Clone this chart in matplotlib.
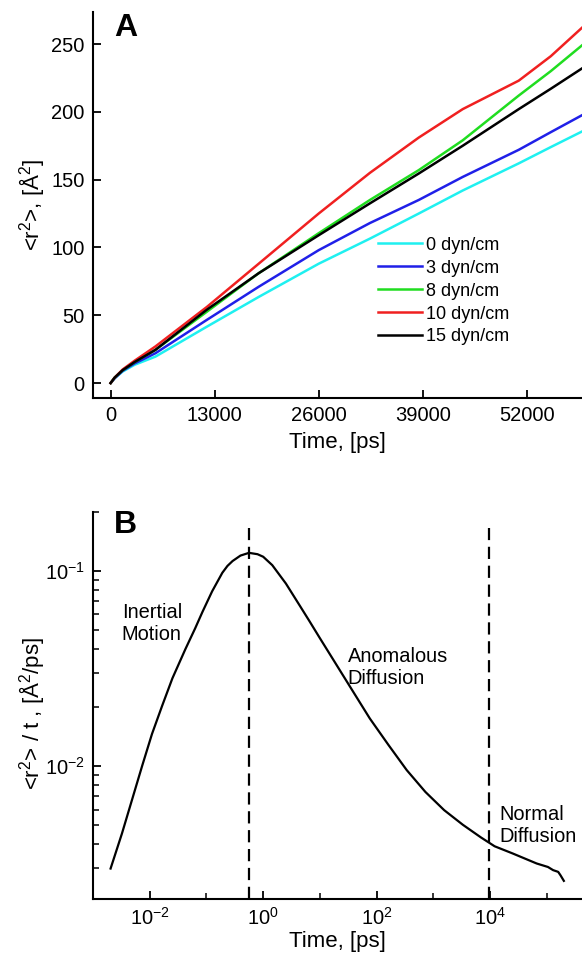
import numpy as np
import matplotlib
matplotlib.use("Agg")
import matplotlib.pyplot as plt
from matplotlib.ticker import FixedLocator, FixedFormatter, NullFormatter, LogLocator

plt.rcParams['font.family'] = ['Liberation Sans', 'DejaVu Sans']
plt.rcParams['mathtext.default'] = 'regular'

# panel A: mean square displacement vs time
time_a = [0, 500, 1500, 3000, 5600, 12000, 18500, 26000, 32400, 38500, 44000, 51000, 55000, 58900]
msd = {
    '0 dyn/cm':  [0, 3.5, 8.5, 13.5, 19.5, 41.5, 63.5, 88, 106.5, 125, 142, 162, 174, 185.5],
    '3 dyn/cm':  [0, 3.5, 9, 14.5, 22, 46.5, 71, 98, 118, 135, 152, 172, 185, 197.5],
    '8 dyn/cm':  [0, 4, 9.5, 15.5, 24.5, 52.5, 81, 110.5, 135, 157, 179, 212, 230, 249],
    '10 dyn/cm': [0, 4, 10, 16.5, 27, 56, 88, 125, 155, 181, 202, 223, 241, 262],
    '15 dyn/cm': [0, 4, 9.5, 15.5, 24.5, 54, 81, 109, 132.5, 154.5, 175, 202, 217, 232],
}
colors = ['#1ff0f0', '#2020e8', '#20dd20', '#f02020', '#000000']
xticks_a = [0, 13000, 26000, 39000, 52000]
yticks_a = [0, 50, 100, 150, 200, 250]

# panel B: <r^2>/t vs time (log10 values)
log_t = [-2.69, -2.49, -2.31, -2.13, -1.96, -1.78, -1.60, -1.37, -1.20, -1.07, -0.90,
         -0.72, -0.63, -0.54, -0.40, -0.25, -0.10, 0.0, 0.16, 0.40, 0.64, 0.81, 1.0, 1.225,
         1.55, 1.88, 2.21, 2.53, 2.86, 3.19, 3.52, 3.84, 4.08, 4.40, 4.82, 5.02, 5.11,
         5.20, 5.24, 5.30]
log_r = [-2.524, -2.345, -2.17, -1.995, -1.835, -1.69, -1.55, -1.40, -1.295, -1.21, -1.105,
         -1.01, -0.975, -0.95, -0.922, -0.908, -0.915, -0.928, -0.971, -1.065, -1.176, -1.255,
         -1.345, -1.45, -1.602, -1.756, -1.892, -2.02, -2.132, -2.225, -2.30, -2.365, -2.41,
         -2.447, -2.498, -2.516, -2.532, -2.541, -2.558, -2.587]
regime_bounds = [0.56, 9500]
xticks_b = [1e-2, 1e0, 1e2, 1e4]
xtick_labels_b = [r'$10^{-2}$', r'$10^{0}$', r'$10^{2}$', r'$10^{4}$']
xminor_b = [1e-1, 1e1, 1e3, 1e5]
yticks_b = [1e-2, 1e-1]
ytick_labels_b = [r'$10^{-2}$', r'$10^{-1}$']

W, H = 582, 963
fig = plt.figure(figsize=(W / 100, H / 100), dpi=100)
axA = fig.add_axes([93 / W, 1 - 398 / H, 1 - 93 / W, 386 / H])
axB = fig.add_axes([93 / W, 1 - 899 / H, 1 - 93 / W, 387 / H])

for ax in (axA, axB):
    for s in ('top', 'right'):
        ax.spines[s].set_visible(False)
    for s in ('left', 'bottom'):
        ax.spines[s].set_linewidth(1.5)
    ax.tick_params(direction='in', length=6, width=1.3, labelsize=14.5, pad=6)
    ax.tick_params(which='minor', direction='in', length=4, width=1.1)

for (name, vals), c in zip(msd.items(), colors):
    axA.plot(time_a, vals, color=c, lw=1.8, label=name)
axA.set_xlim(-2200, 58900)
axA.set_ylim(-11, 273.6)
axA.set_xticks(xticks_a)
axA.set_yticks(yticks_a)
axA.set_xlabel('Time, [ps]', fontsize=16, labelpad=5)
axA.set_ylabel(r'<r$^2$>, [Å$^2$]', fontsize=16)
axA.yaxis.set_label_coords(-0.095, 0.5)
axA.legend(loc='upper left', bbox_to_anchor=(0.583, 0.418), frameon=False, fontsize=13,
           handlelength=2.45, handletextpad=0.2, labelspacing=0.33, borderpad=0, borderaxespad=0)

axB.plot(10 ** np.array(log_t), 10 ** np.array(log_r), color='black', lw=1.6)
axB.set_xscale('log')
axB.set_yscale('log')
axB.set_xlim(1e-3, 10 ** 5.62)
axB.set_ylim(2.09e-3, 0.2)
axB.vlines(regime_bounds, 2.09e-3, 0.165, colors='black', linestyles=(0, (5.5, 3)), lw=1.6)
axB.xaxis.set_major_locator(FixedLocator(xticks_b))
axB.xaxis.set_major_formatter(FixedFormatter(xtick_labels_b))
axB.xaxis.set_minor_locator(FixedLocator(xminor_b))
axB.xaxis.set_minor_formatter(NullFormatter())
axB.yaxis.set_major_locator(FixedLocator(yticks_b))
axB.yaxis.set_major_formatter(FixedFormatter(ytick_labels_b))
axB.yaxis.set_minor_locator(LogLocator(base=10, subs=np.arange(2, 10)))
axB.yaxis.set_minor_formatter(NullFormatter())
axB.set_xlabel('Time, [ps]', fontsize=16, labelpad=1)
axB.set_ylabel(r'<r$^2$> / t , [Å$^2$/ps]', fontsize=16)
axB.yaxis.set_label_coords(-0.095, 0.48)

for txt, x, y in [('Inertial\nMotion', 0.059, 0.711), ('Anomalous\nDiffusion', 0.521, 0.599),
                  ('Normal\nDiffusion', 0.832, 0.191)]:
    axB.text(x, y, txt, transform=axB.transAxes, fontsize=14.4, va='center', ha='left')

fig.text(114 / W, 1 - 28 / H, 'A', fontsize=23, fontweight='bold', va='center', ha='left')
fig.text(114 / W, 1 - 525 / H, 'B', fontsize=23, fontweight='bold', va='center', ha='left')

fig.savefig('out.png', dpi=100)
